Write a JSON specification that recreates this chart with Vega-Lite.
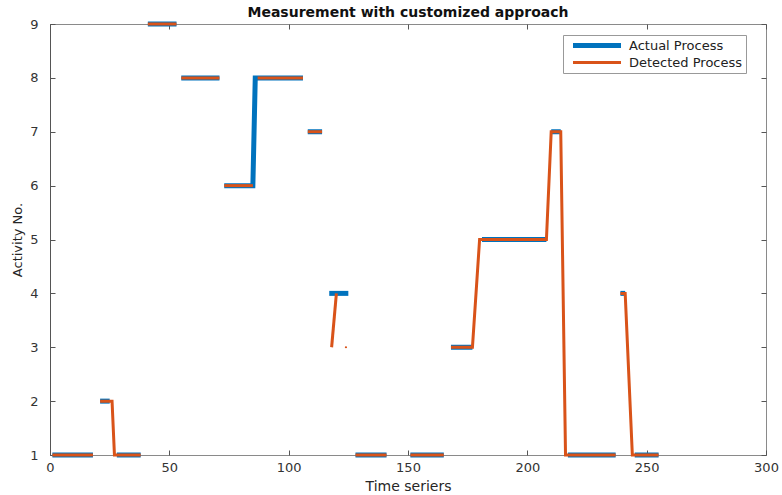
{
  "$schema": "https://vega.github.io/schema/vega-lite/v6.json",
  "autosize": {"type": "none"},
  "padding": {"left": 50, "top": 24, "right": 16, "bottom": 40},
  "width": 716,
  "height": 431,
  "background": "white",
  "title": {"text": "Measurement with customized approach", "fontSize": 14, "fontWeight": "bold", "font": "DejaVu Sans", "color": "#111111", "offset": -6},
  "config": {
    "view": {"stroke": "#8a8a8a", "strokeWidth": 1},
    "axis": {"grid": false, "labelFont": "DejaVu Sans", "titleFont": "DejaVu Sans", "labelColor": "#333333", "titleColor": "#262626", "labelFontSize": 13, "titleFontWeight": "normal", "tickColor": "#555555", "domain": false}
  },
  "datasets": {
    "actual": [
      {"seg": 1, "x": 1, "y": 1}, {"seg": 1, "x": 18, "y": 1},
      {"seg": 2, "x": 21, "y": 2}, {"seg": 2, "x": 25, "y": 2},
      {"seg": 3, "x": 28, "y": 1}, {"seg": 3, "x": 38, "y": 1},
      {"seg": 4, "x": 41, "y": 9}, {"seg": 4, "x": 53, "y": 9},
      {"seg": 5, "x": 55, "y": 8}, {"seg": 5, "x": 71, "y": 8},
      {"seg": 6, "x": 73, "y": 6}, {"seg": 6, "x": 85, "y": 6}, {"seg": 6, "x": 86, "y": 8}, {"seg": 6, "x": 106, "y": 8},
      {"seg": 7, "x": 108, "y": 7}, {"seg": 7, "x": 114, "y": 7},
      {"seg": 8, "x": 117, "y": 4}, {"seg": 8, "x": 125, "y": 4},
      {"seg": 9, "x": 128, "y": 1}, {"seg": 9, "x": 141, "y": 1},
      {"seg": 10, "x": 151, "y": 1}, {"seg": 10, "x": 165, "y": 1},
      {"seg": 11, "x": 168, "y": 3}, {"seg": 11, "x": 177, "y": 3},
      {"seg": 12, "x": 181, "y": 5}, {"seg": 12, "x": 208, "y": 5},
      {"seg": 13, "x": 210, "y": 7}, {"seg": 13, "x": 214, "y": 7},
      {"seg": 14, "x": 217, "y": 1}, {"seg": 14, "x": 237, "y": 1},
      {"seg": 15, "x": 239, "y": 4}, {"seg": 15, "x": 241, "y": 4},
      {"seg": 16, "x": 245, "y": 1}, {"seg": 16, "x": 255, "y": 1}
    ],
    "detected": [
      {"seg": 1, "x": 1, "y": 1}, {"seg": 1, "x": 18, "y": 1},
      {"seg": 2, "x": 21, "y": 2}, {"seg": 2, "x": 26, "y": 2}, {"seg": 2, "x": 27, "y": 1}, {"seg": 2, "x": 38, "y": 1},
      {"seg": 3, "x": 41, "y": 9}, {"seg": 3, "x": 53, "y": 9},
      {"seg": 4, "x": 55, "y": 8}, {"seg": 4, "x": 71, "y": 8},
      {"seg": 5, "x": 73, "y": 6}, {"seg": 5, "x": 85, "y": 6},
      {"seg": 6, "x": 87, "y": 8}, {"seg": 6, "x": 106, "y": 8},
      {"seg": 7, "x": 108, "y": 7}, {"seg": 7, "x": 114, "y": 7},
      {"seg": 8, "x": 118, "y": 3}, {"seg": 8, "x": 120, "y": 4},
      {"seg": 10, "x": 128, "y": 1}, {"seg": 10, "x": 141, "y": 1},
      {"seg": 11, "x": 151, "y": 1}, {"seg": 11, "x": 165, "y": 1},
      {"seg": 12, "x": 168, "y": 3}, {"seg": 12, "x": 177, "y": 3}, {"seg": 12, "x": 180, "y": 5}, {"seg": 12, "x": 208, "y": 5}, {"seg": 12, "x": 210, "y": 7}, {"seg": 12, "x": 214, "y": 7}, {"seg": 12, "x": 216, "y": 1}, {"seg": 12, "x": 237, "y": 1},
      {"seg": 13, "x": 239, "y": 4}, {"seg": 13, "x": 241, "y": 4}, {"seg": 13, "x": 244, "y": 1}, {"seg": 13, "x": 255, "y": 1}
    ],
    "dot": [{"x": 124, "y": 3}]
  },
  "resolve": {"axis": {"x": "independent", "y": "independent"}},
  "layer": [
    {
      "data": {"name": "actual"},
      "transform": [{"calculate": "'Actual Process'", "as": "series"}],
      "mark": {"type": "line", "strokeCap": "butt", "strokeJoin": "miter"},
      "encoding": {
        "x": {"field": "x", "type": "quantitative", "scale": {"domain": [0, 300], "nice": false, "zero": false},
              "axis": {"values": [0, 50, 100, 150, 200, 250, 300], "title": "Time seriers", "titleFontSize": 14, "titlePadding": 5, "tickSize": -5, "labelPadding": 11, "labelFlush": false}},
        "y": {"field": "y", "type": "quantitative", "scale": {"domain": [1, 9], "nice": false, "zero": false},
              "axis": {"values": [1, 2, 3, 4, 5, 6, 7, 8, 9], "title": "Activity No.", "titleFontSize": 13, "titlePadding": 5, "tickSize": -5, "labelPadding": 17, "domain": true, "domainColor": "#555555"}},
        "detail": {"field": "seg", "type": "nominal"},
        "color": {"field": "series", "type": "nominal", "scale": {"domain": ["Actual Process", "Detected Process"], "range": ["#0072BD", "#D95319"]},
                  "legend": {"title": null, "orient": "none", "legendX": 513, "legendY": 11, "symbolType": "M-4.8,0H4.8", "symbolSize": 100, "labelFontSize": 13, "labelFont": "DejaVu Sans", "labelColor": "#222222", "strokeColor": "#999999", "fillColor": "white", "padding": 3, "rowPadding": 0, "labelOffset": 24.5, "symbolOffset": 23.5, "offset": 0}},
        "strokeWidth": {"field": "series", "type": "nominal", "scale": {"domain": ["Actual Process", "Detected Process"], "range": [5, 3]}, "legend": null}
      }
    },
    {
      "data": {"name": "detected"},
      "transform": [{"calculate": "'Detected Process'", "as": "series"}],
      "mark": {"type": "line", "strokeCap": "butt", "strokeJoin": "miter"},
      "encoding": {
        "x": {"field": "x", "type": "quantitative", "axis": null},
        "y": {"field": "y", "type": "quantitative", "axis": null},
        "detail": {"field": "seg", "type": "nominal"},
        "color": {"field": "series", "type": "nominal"},
        "strokeWidth": {"field": "series", "type": "nominal", "legend": null}
      }
    },
    {
      "data": {"name": "dot"},
      "mark": {"type": "point", "filled": true, "size": 5, "color": "#D95319", "opacity": 1},
      "encoding": {
        "x": {"field": "x", "type": "quantitative", "axis": {"orient": "top", "values": [0, 50, 100, 150, 200, 250, 300], "labels": false, "title": null, "tickSize": -5}},
        "y": {"field": "y", "type": "quantitative", "axis": {"orient": "right", "values": [1, 2, 3, 4, 5, 6, 7, 8, 9], "labels": false, "title": null, "tickSize": -5}}
      }
    }
  ]
}
